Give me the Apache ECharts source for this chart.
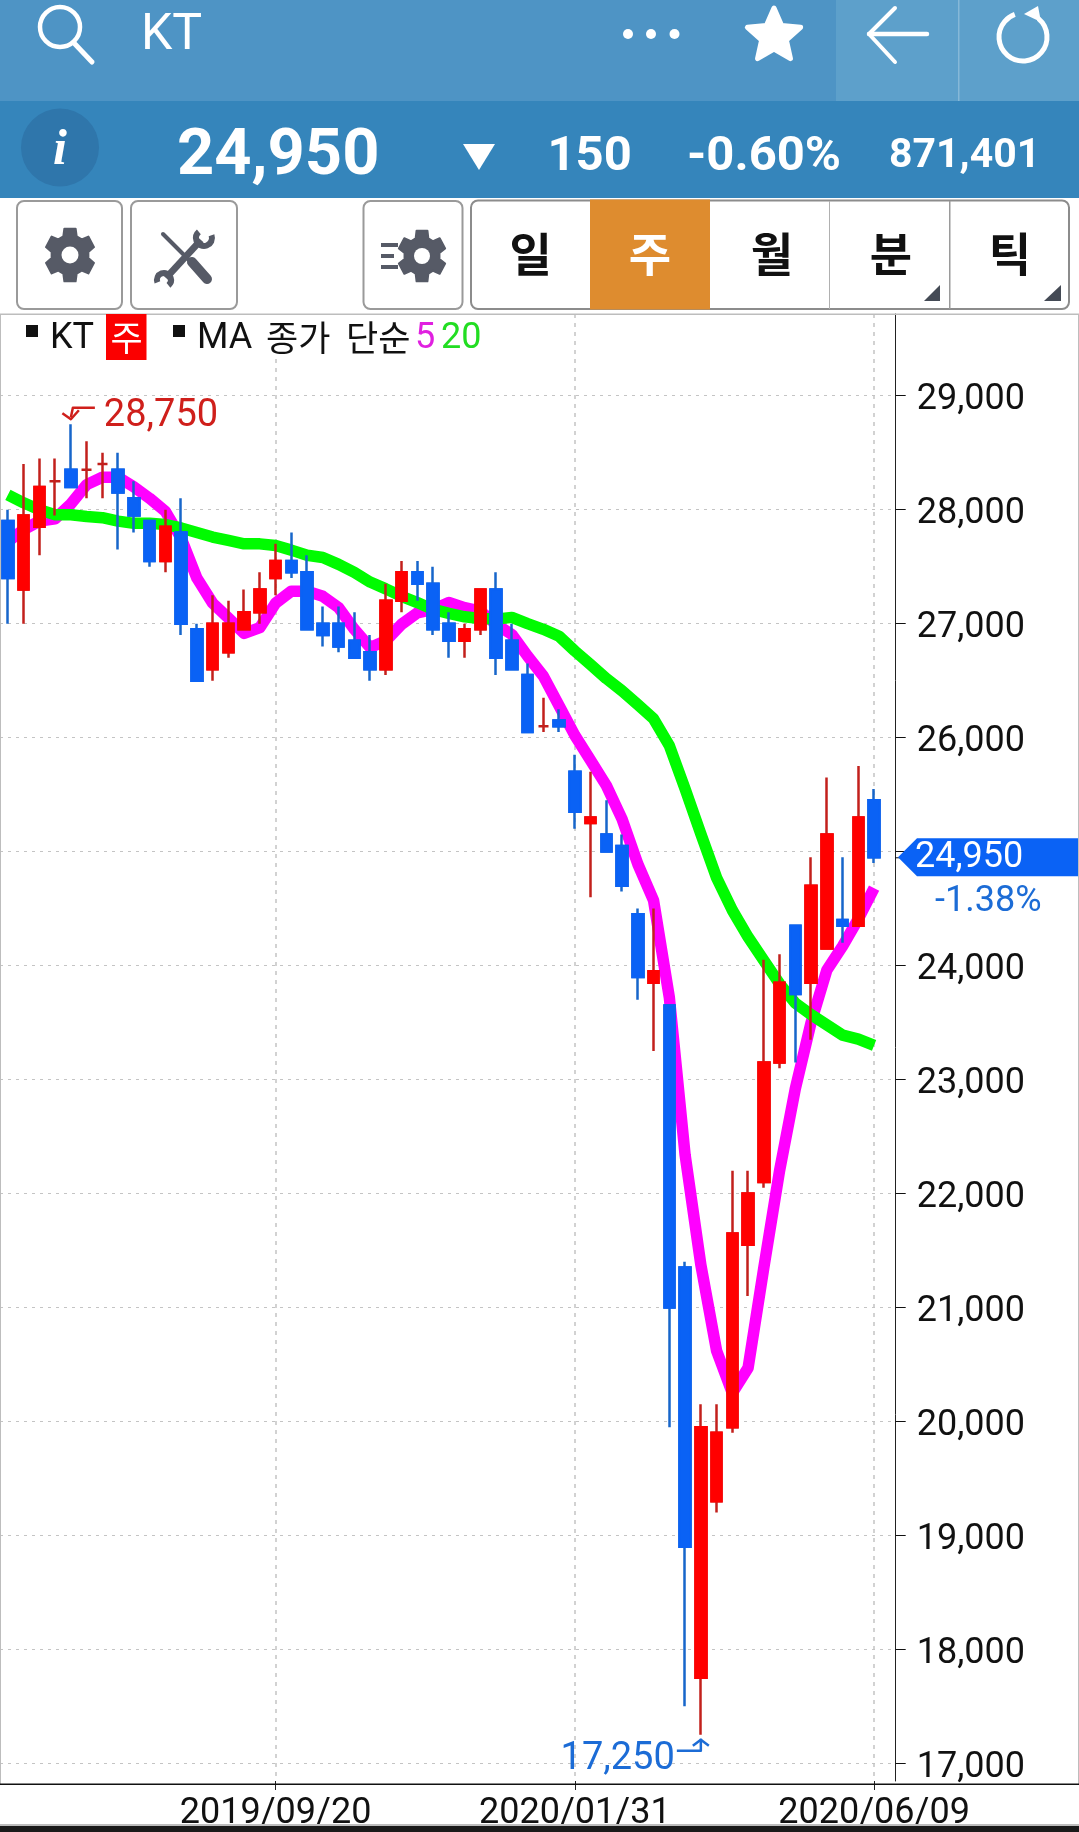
<!DOCTYPE html>
<html><head><meta charset="utf-8">
<style>html,body{margin:0;padding:0;background:#fff}#c{width:1079px;height:1832px}</style>
<script src="https://cdn.jsdelivr.net/npm/echarts@6/dist/echarts.min.js"></script>
</head><body><div id="c"></div>
<script>
const dates=['2019/05/24','2019/05/31','2019/06/07','2019/06/14','2019/06/21','2019/06/28','2019/07/05','2019/07/12','2019/07/19','2019/07/26','2019/08/02','2019/08/09','2019/08/16','2019/08/23','2019/08/30','2019/09/06','2019/09/13','2019/09/20','2019/09/27','2019/10/04','2019/10/11','2019/10/18','2019/10/25','2019/11/01','2019/11/08','2019/11/15','2019/11/22','2019/11/29','2019/12/06','2019/12/13','2019/12/20','2019/12/27','2020/01/03','2020/01/10','2020/01/17','2020/01/24','2020/01/31','2020/02/07','2020/02/14','2020/02/21','2020/02/28','2020/03/06','2020/03/13','2020/03/20','2020/03/27','2020/04/03','2020/04/10','2020/04/17','2020/04/24','2020/05/01','2020/05/08','2020/05/15','2020/05/22','2020/05/29','2020/06/05','2020/06/09'];
const opens=[27900,27300,27850,28250,28350,28350,28400,28350,28100,27900,27550,27800,26950,26600,26750,26950,27100,27400,27550,27450,27000,27000,26850,26750,26600,27200,27450,27350,27000,26850,26950,27300,26850,26550,26100,26150,25700,25250,25150,25050,24450,23850,23650,21350,17750,19300,19950,21550,22100,23150,24350,23850,24150,24400,24350,25450];
const closes=[27400,27950,28200,28250,28200,28350,28400,28150,27950,27550,27850,27000,26500,27000,27000,27100,27300,27550,27450,26950,26900,26800,26700,26600,27200,27450,27350,26950,26850,26950,27300,26700,26600,26050,26100,26100,25350,25300,25000,24700,23900,23950,21000,18900,19950,19900,21650,22000,23150,23850,23750,24700,25150,24350,25300,24950];
const lows=[27000,27000,27600,27950,28200,28100,28100,27650,27800,27500,27450,26900,26500,26500,26700,26950,27000,27250,27400,26950,26800,26750,26700,26500,26550,27100,27200,26900,26700,26700,26900,26550,26600,26050,26050,26050,25200,24600,25000,24650,23700,23250,19950,17500,17250,19200,19900,21100,22050,23100,23150,23350,24150,24200,24350,24900];
const highs=[28000,28400,28450,28450,28750,28600,28500,28500,28250,27900,28000,28100,27000,27250,27200,27300,27450,27700,27800,27600,27150,27150,27100,26900,27350,27550,27550,27500,27100,27000,27300,27450,27000,26650,26350,26250,25850,25700,25450,25150,24500,24500,23650,21400,20150,20150,22200,22200,24050,24100,24350,24950,25650,24950,25750,25550];
const ma5=[27720,27825,27900,27920,28050,28220,28285,28285,28200,28100,27985,27750,27400,27180,27050,26915,26965,27180,27285,27285,27240,27140,26950,26790,26850,26995,27095,27125,27185,27140,27110,26995,26905,26715,26540,26280,26020,25800,25580,25285,24890,24570,23720,22340,21375,20620,20250,20470,21350,22200,22920,23500,23960,24170,24410,24680];
const ma20=[28130,28060,28000,27955,27955,27940,27930,27900,27880,27880,27870,27840,27800,27760,27730,27700,27700,27685,27645,27600,27580,27520,27450,27365,27305,27240,27185,27125,27090,27060,27045,27040,27055,27000,26950,26890,26760,26640,26518,26410,26290,26165,25930,25550,25155,24770,24485,24250,24045,23840,23670,23570,23480,23390,23355,23300];
const yTicks=[17000,18000,19000,20000,21000,22000,23000,24000,25000,26000,27000,28000,29000];
const xTickLabels=['2019/09/20','2020/01/31','2020/06/09'];
const lastPrice=24950, highPrice=28750, lowPrice=17250;
const header={name:'KT',price:'24,950',change:'150',pct:'-0.60%',volume:'871,401',gap:'-1.38%'};
const periods=['일','주','월','분','틱'];
const legendBits=['KT','주','MA','종가','단순','5','20'];

const RED='#ff0000',BLUE='#0a62f5',WRED='#c2201c',WBLUE='#1766ca';
const cats=dates.concat(['']);
const F='Roboto, sans-serif', K='"Noto Sans CJK KR", sans-serif';
const full=dates.map((d,i)=>[opens[i],closes[i],lows[i],highs[i]]);
const bodies=dates.map((d,i)=>opens[i]===closes[i]?['-','-','-','-']:[opens[i],closes[i],Math.min(opens[i],closes[i]),Math.max(opens[i],closes[i])]);
const isTick=(i,v)=>xTickLabels.indexOf(v)>=0;

const chart=echarts.init(document.getElementById('c'),null,{renderer:'canvas',width:1079,height:1832});
chart.setOption({
  animation:false,backgroundColor:'#fff',
  grid:{left:-0.6,top:314,width:898.3,height:1470,containLabel:false},
  xAxis:{type:'category',data:cats,boundaryGap:true,
    axisLine:{show:false},
    axisTick:{show:true,alignWithLabel:true,length:9,interval:isTick,lineStyle:{color:'#222',width:1}},
    axisLabel:{show:true,interval:isTick,margin:15,color:'#111',fontFamily:'Roboto',fontSize:36,hideOverlap:false,showMinLabel:true,showMaxLabel:true},
    splitLine:{show:true,alignWithLabel:true,interval:isTick,lineStyle:{color:'#c4c4c4',width:1.5,type:[4,5]}}},
  yAxis:{type:'value',position:'right',offset:-2,min:16845,max:29717,scale:true,
    axisLine:{show:true,onZero:false,lineStyle:{color:'#222',width:1}},
    axisTick:{show:true,length:10,customValues:yTicks,lineStyle:{color:'#111',width:1}},
    axisLabel:{show:true,margin:21,color:'#111',fontFamily:'Roboto',fontSize:36,verticalAlign:'top',lineHeight:9.5,customValues:yTicks,formatter:v=>Number(v).toLocaleString('en-US')},
    splitLine:{show:true,lineStyle:{color:'#c4c4c4',width:1.2,type:[3,5]}}},
  series:[
    {name:'MA5',type:'line',data:ma5,symbol:'none',z:2,lineStyle:{color:'#ff00ff',width:11.5,cap:'butt',join:'round'},silent:true},
    {name:'MA20',type:'line',data:ma20,symbol:'none',z:3,lineStyle:{color:'#00fb00',width:11.5,cap:'butt',join:'round'},silent:true},
    {name:'KT',type:'candlestick',data:full,barWidth:11,z:5,itemStyle:{color:RED,color0:BLUE,borderColor:WRED,borderColor0:WBLUE,borderWidth:2.5}},
    {name:'KT body',type:'candlestick',data:bodies,barWidth:11,z:6,itemStyle:{color:RED,color0:BLUE,borderColor:RED,borderColor0:BLUE,borderWidth:2.5}}
  ]
});

function rect(x,y,w,h,fill,extra){return Object.assign({type:'rect',shape:{x,y,width:w,height:h},style:{fill},silent:true},extra||{});}
function btn(x,y,w,h){return {type:'rect',shape:{x,y,width:w,height:h,r:7},style:{fill:'#fff',stroke:'#9a9a9a',lineWidth:2},silent:true};}
function txt(t,x,y,font,fill,align){return {type:'text',z:50,silent:true,style:{text:t,x,y,font,fill,textAlign:align||'left',textVerticalAlign:'middle'}};}
function line(pts,stroke,w,cap,z){return {type:'polyline',z:z||20,silent:true,shape:{points:pts},style:{stroke,lineWidth:w,fill:'none',lineCap:cap||'round',lineJoin:'round'}};}
function poly(pts,fill,z,extra){return {type:'polygon',z:z||20,silent:true,shape:{points:pts},style:Object.assign({fill},extra||{})};}
function gear(cx,cy,R,r,hole,color){
  const pts=[];
  for(let k=0;k<6;k++){const a=(-90+k*60)*Math.PI/180,d=13*Math.PI/180,e=21*Math.PI/180;
    const P=(rad,ang)=>[cx+rad*0.93*Math.cos(ang),cy+rad*Math.sin(ang)];
    pts.push(P(r,a-e),P(R,a-d),P(R,a+d),P(r,a+e));}
  return [poly(pts,color,20,{stroke:color,lineWidth:2,lineJoin:'round'}),
    {type:'circle',z:21,silent:true,shape:{cx,cy,r:hole},style:{fill:'#fff'}}];
}
function star(cx,cy,R,r){const p=[];for(let k=0;k<10;k++){const a=(-90+k*36)*Math.PI/180,q=k%2?r:R;p.push([cx+q*Math.cos(a),cy+q*Math.sin(a)]);}return p;}

const G='#565a66';
const g=[];
// header bands
g.push(rect(0,0,1079,101,'#4e94c5'),rect(836,0,243,101,'#5da0cb'),rect(958,0,1.5,101,'#86b8d8'),rect(0,101,1079,97,'#3585bb'));
g.push({type:'circle',silent:true,z:20,shape:{cx:60,cy:147.5,r:39},style:{fill:'#2f76ab'}});
g.push(txt('i',60,151,'italic bold 50px "Liberation Serif", serif','#fff','center'));
// search
g.push({type:'circle',silent:true,z:20,shape:{cx:60,cy:27,r:20},style:{fill:'none',stroke:'#fff',lineWidth:4.5}});
g.push(line([[74,43],[92,62]],'#fff',5));
g.push(txt(header.name,141,36.5,'50px '+F,'#fff'));
[628,651,674.5].forEach(x=>g.push({type:'circle',silent:true,z:20,shape:{cx:x,cy:34,r:5},style:{fill:'#fff'}}));
g.push(poly(star(774,36,28,13),'#fff',20,{stroke:'#fff',lineWidth:5,lineJoin:'round'}));
g.push(line([[895,8],[869,34],[895,62]],'#fff',4));g.push(line([[869,34],[927,34]],'#fff',4.5));
g.push({type:'arc',silent:true,z:20,shape:{cx:1023,cy:37,r:24,startAngle:-50*Math.PI/180,endAngle:250*Math.PI/180,clockwise:true},style:{fill:'none',stroke:'#fff',lineWidth:5}});
g.push(poly([[1038,6],[1041,22],[1024,14]],'#fff'));
// quote strip
g.push(txt(header.price,177,158,'bold 65px '+F,'#fff'));
g.push(poly([[463,144],[495,144],[479,170]],'#fff'));
g.push(txt(header.change,547.5,157.5,'bold 49px '+F,'#fff'));
g.push(txt(header.pct,687,157.5,'bold 49px '+F,'#fff'));
g.push(txt(header.volume,889,157,'bold 41px '+F,'#fff'));
// toolbar
g.push(btn(17,201,105,108),btn(131,201,106,108),btn(363.5,201,99,108));
g.push(...gear(70,255,27,20,8.5,G));
g.push(line([[163,234],[189,260]],G,4,'round'),line([[192,262],[207,279]],G,10,'round'));
g.push(line([[201,240],[166,278]],G,7,'butt'));
g.push({type:'arc',silent:true,z:20,shape:{cx:204,cy:238,r:8,startAngle:-20*Math.PI/180,endAngle:230*Math.PI/180,clockwise:true},style:{fill:'none',stroke:G,lineWidth:6}});
g.push({type:'arc',silent:true,z:20,shape:{cx:164,cy:280,r:7,startAngle:160*Math.PI/180,endAngle:410*Math.PI/180,clockwise:true},style:{fill:'none',stroke:G,lineWidth:6}});
g.push(...gear(422,256,26,19,8,G));
g.push(line([[381,245],[398,245]],G,4,'butt'),line([[381,256],[394,256]],G,4,'butt'),line([[381,267],[398,267]],G,4,'butt'));
g.push({type:'rect',silent:true,shape:{x:471,y:200.5,width:598,height:108.5,r:7},style:{fill:'#fff',stroke:'#8c8c8c',lineWidth:2}});
g.push(rect(590,199.5,120,110,'#de8c2f',{z:5}));
g.push(rect(829,201,1,108,'#b0b0b0',{z:5}),rect(949,201,1.5,108,'#9a9a9a',{z:5}));
[530.6,650,772,891,1010].forEach((x,i)=>g.push(txt(periods[i],x,253.5,'bold 46px '+K,i===1?'#fff':'#111','center')));
g.push(poly([[940,285],[940,301],[924,301]],'#444a55'),poly([[1061,285],[1061,301],[1044,301]],'#444a55'));
// panel borders and axis
g.push(rect(0,313.5,1079,1.5,'#bdbdbd',{z:30}),rect(0,314,1,1470,'#bdbdbd',{z:30}),rect(1078,314,1,1470,'#bdbdbd',{z:30}));
g.push(rect(0,1783.5,1079,1.5,'#111',{z:30}));
g.push(rect(0,1824,1079,2,'#bdbdbd',{z:30}),rect(0,1826,1079,6,'#1a1a1a',{z:30}));
// legend (sits on a white patch that hides the gridline behind it)
g.push(rect(1,315,482,39,'#fff',{z:30}));
g.push(rect(26,325,12,12,'#111',{z:40}));
g.push(txt(legendBits[0],50,339,'36px '+F,'#111'));
g.push(rect(106,314,40.5,46,'#fb0000',{z:40}));
g.push(txt(legendBits[1],126.5,338,'35px '+K,'#fff','center'));
g.push(rect(173,325,12,12,'#111',{z:40}));
g.push(txt(legendBits[2],197,339,'36px '+F,'#111'));
g.push(txt(legendBits[3],266,338,'35px '+K,'#111'));
g.push(txt(legendBits[4],346,338,'35px '+K,'#111'));
g.push(txt(legendBits[5],415,339,'36px '+F,'#e020e0'));
g.push(txt(legendBits[6],441,339,'36px '+F,'#22dd22'));
// annotations positioned through the chart's own scales
const hi=chart.convertToPixel({gridIndex:0},[dates[highs.indexOf(highPrice)],highPrice]);
const lo=chart.convertToPixel({gridIndex:0},[dates[lows.indexOf(lowPrice)],lowPrice]);
const lp=chart.convertToPixel({gridIndex:0},[dates[dates.length-1],lastPrice]);
const hr='#cf1f1b',bl='#1c6cd6';
g.push(line([[hi[0]+24,hi[1]-16.5],[hi[0]+2,hi[1]-16.5],[hi[0],hi[1]-7]],hr,2.5,'butt'));
g.push(line([[hi[0]-8.5,hi[1]-11],[hi[0],hi[1]-5],[hi[0]+8,hi[1]-14]],hr,2.5,'butt'));
g.push(txt(Number(highPrice).toLocaleString('en-US'),hi[0]+33,hi[1]-8,'38px '+F,hr));
g.push(line([[lo[0]-24,lo[1]+16],[lo[0],lo[1]+16],[lo[0],lo[1]+4]],bl,2.5,'butt'));
g.push(line([[lo[0]-8,lo[1]+11],[lo[0],lo[1]+5],[lo[0]+8,lo[1]+11]],bl,2.5,'butt'));
g.push(txt(Number(lowPrice).toLocaleString('en-US'),lo[0]-26,lo[1]+25,'38px '+F,bl,'right'));
// last price tag
g.push(poly([[898,lp[1]],[917,lp[1]-19],[1078,lp[1]-19],[1078,lp[1]+19],[917,lp[1]+19]],BLUE,40));
g.push(rect(895,lp[1],8,1,'#111',{z:30}));
g.push(txt(Number(lastPrice).toLocaleString('en-US'),915,lp[1]+1,'36px '+F,'#fff'));
g.push(txt(header.gap,935,lp[1]+45,'36px '+F,bl));
chart.setOption({graphic:{elements:g}});
</script></body></html>
